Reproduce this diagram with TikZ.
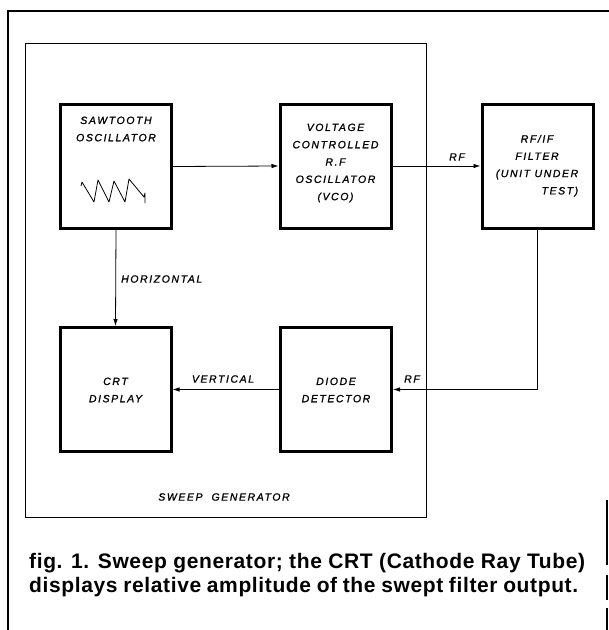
\documentclass[tikz,border=0pt]{standalone}
\usepackage{fontspec}
\setmainfont{Liberation Sans}
\newfontfamily\lblfont[LetterSpace=15,FakeBold=1.2]{Liberation Sans Italic}
\newfontfamily\capfont[LetterSpace=3]{Liberation Sans Bold}
\usetikzlibrary{arrows.meta}
\begin{document}
\begin{tikzpicture}[x=1pt,y=-1pt,
  blk/.style={draw,line width=3pt,minimum width=111pt,minimum height=124pt,inner sep=0pt},
  txt/.style={font=\fontsize{10.5}{17.3}\lblfont,align=center,inner sep=0pt},
  conn/.style={line width=0.8pt,-{Latex[length=7pt,width=4.5pt]}},
  frameline/.style={line width=1pt},
  captext/.style={font=\fontsize{21}{24}\capfont,anchor=base west,inner sep=0pt}]
\useasboundingbox (0,0) rectangle (609,630);
% frames
\draw[line width=1.3pt] (8,630) -- (8,11) -- (609,11);
\draw[line width=1.3pt] (607,500) -- (607,565) (607,575) -- (607,600) (607,608) -- (607,630);
\draw[frameline] (25,43) rectangle (426,517);
% blocks
\node[blk] (saw) at (116,166.5) {};
\node[blk] (vco) at (335.5,166) {};
\node[blk] (filt) at (537.5,166) {};
\node[blk] (crt) at (115.5,389.5) {};
\node[blk] (diode) at (336,389.5) {};
% block texts
\node[txt] (sawt) at (116,129) {SAWTOOTH\\OSCILLATOR};
\node[txt] (vcot) at (335.5,163) {VOLTAGE\\CONTROLLED\\R.F\\OSCILLATOR\\(VCO)};
\node[txt] (filtt) at (537,165) {\begin{tabular}{@{}c@{}}RF/IF\\FILTER\\(UNIT UNDER\\\multicolumn{1}{@{}r@{}}{TEST)}\end{tabular}};
\node[txt] (crtt) at (115.5,390) {CRT\\DISPLAY};
\node[txt] (diodet) at (336,390) {DIODE\\DETECTOR};
% sawtooth waveform
\draw[line width=0.8pt,line join=round] (81,186) -- (82,182) -- (94,202) -- (98,180) -- (109,202) -- (114,181) -- (125,202) -- (129,179) -- (144,197) -- (145,193) -- (145,203);
% connectors
\draw[conn] (saw.east) -- (vco.west);
\draw[conn] (vco.east) -- (filt.west);
\draw[conn] (saw.south) -- (crt.north);
\draw[conn] (filt.south) |- (diode.east);
\draw[conn] (diode.west) -- (crt.east);
% labels
\node[txt,anchor=west] (hor) at (121,279) {HORIZONTAL};
\node[txt] (ver) at (223,379) {VERTICAL};
\node[txt] (rf1) at (457,157) {RF};
\node[txt] (rf2) at (412,379) {RF};
\node[txt] (sweep) at (224,497) {SWEEP\ \ GENERATOR};
% caption
\node[captext] (cap1) at (29,568) {\makebox[556pt][s]{fig. 1. Sweep generator; the CRT (Cathode Ray Tube)}};
\node[captext] (cap2) at (29,592) {\makebox[549pt][s]{displays relative amplitude of the swept filter output.}};
\end{tikzpicture}
\end{document}
